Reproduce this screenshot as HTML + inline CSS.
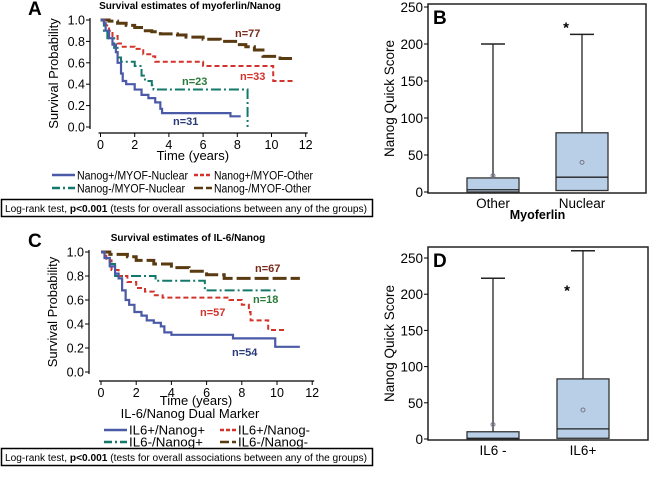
<!DOCTYPE html>
<html><head><meta charset="utf-8"><style>
body{margin:0;background:#fff;}
svg{display:block;font-family:"Liberation Sans",Arial,sans-serif;}
</style></head><body>
<svg id="fig" width="650" height="485" viewBox="0 0 650 485">
<g id="pA"></g>
<g id="pB"></g>
<g id="pC"></g>
<g id="pD"></g>
<g>
<rect x="1.5" y="199.5" width="371" height="17" fill="#fff" stroke="#000" stroke-width="1.5"/>
<text x="5" y="212" font-size="10" textLength="362" lengthAdjust="spacingAndGlyphs">Log-rank test, <tspan font-weight="bold">p&lt;0.001</tspan> (tests for overall associations between any of the groups)</text>
</g>
<g>
<rect x="1.5" y="448.5" width="371" height="17" fill="#fff" stroke="#000" stroke-width="1.5"/>
<text x="5" y="461" font-size="10" textLength="362" lengthAdjust="spacingAndGlyphs">Log-rank test, <tspan font-weight="bold">p&lt;0.001</tspan> (tests for overall associations between any of the groups)</text>
</g>
</svg>
<script>
// Panel A data
const aBlueT=[0,0.2,0.3,0.5,0.7,0.9,1.0,1.2,1.3,1.5,2.0,2.4,2.8,3.2,3.5,3.6,7.6,8.2];
const aBlueS=[1,0.97,0.9,0.83,0.77,0.7,0.6,0.5,0.43,0.4,0.35,0.3,0.27,0.23,0.17,0.13,0.1,0.1];
const aGreenT=[0,0.2,0.4,0.8,1.0,1.2,2.0,2.4,2.6,3.0,3.1,8.6,8.6];
const aGreenS=[1,0.9,0.83,0.74,0.65,0.61,0.57,0.48,0.43,0.39,0.35,0.35,0];
const aRedT=[0,0.3,0.5,0.7,1.0,1.3,2.0,2.5,3.0,3.2,6.0,10.1,11.4];
const aRedS=[1,0.95,0.9,0.85,0.78,0.75,0.73,0.68,0.66,0.61,0.57,0.43,0.43];
const aBrownT=[0,0.5,1.0,1.5,2.0,2.5,3.0,3.5,4.5,5.0,6.0,7.0,8.0,8.5,9.0,9.5,10.5,11.4];
const aBrownS=[1,0.99,0.97,0.95,0.93,0.9,0.89,0.87,0.86,0.84,0.82,0.8,0.77,0.75,0.72,0.66,0.64,0.64];
// Panel C data
const cBlueT=[0,0.2,0.5,0.8,1.0,1.2,1.4,1.6,1.9,2.3,2.6,3.0,3.4,3.6,4.0,7.5,9.9,11.3];
const cBlueS=[1,0.95,0.88,0.82,0.78,0.68,0.6,0.56,0.5,0.47,0.43,0.41,0.38,0.33,0.31,0.28,0.21,0.21];
const cGreenT=[0,0.2,0.5,0.8,3.1,5.9,10];
const cGreenS=[1,0.95,0.9,0.8,0.76,0.68,0.68];
const cRedT=[0,0.3,0.6,1.0,1.5,2.0,2.5,3.0,3.5,7.3,8.0,8.4,8.5,9.5,10.5];
const cRedS=[1,0.93,0.85,0.8,0.75,0.7,0.67,0.64,0.62,0.6,0.56,0.5,0.43,0.35,0.35];
const cBrownT=[0,0.5,1.5,2.0,3.0,4.0,5.0,6.0,7.0,11.3];
const cBrownS=[1,0.98,0.96,0.93,0.9,0.87,0.84,0.81,0.78,0.78];
const xTicks=[0,2,4,6,8,10,12];
const yTicks=[0,0.2,0.4,0.6,0.8,1.0];
// Box plot data [q1, median, q3, whiskerHigh, mean, outlier]
const bCats=["Other","Nuclear"];
const bStats=[[0,3,19,200,22,null],[2,20,80,213,40,225]];
const dCats=["IL6 -","IL6+"];
const dStats=[[0,1,10,222,20,null],[1,14,83,260,40,208]];
const boxTicks=[0,50,100,150,200,250];

const NS="http://www.w3.org/2000/svg";
function el(p,tag,attrs,txt){const e=document.createElementNS(NS,tag);for(const k in attrs)e.setAttribute(k,attrs[k]);if(txt!==undefined)e.textContent=txt;p.appendChild(e);return e;}

function km(g,cfg){
  const X=t=>cfg.x0+t*cfg.xs, Y=p=>cfg.y0-p*cfg.ys;
  const t1=el(g,'text',{x:cfg.titleX,y:cfg.titleY,'font-size':10,'font-weight':'bold','text-anchor':'middle'},cfg.title);
  
  
  const lt=el(g,'text',{x:28,y:cfg.titleY+6,'font-size':19,'font-weight':'bold'},cfg.letter);
  
  
  el(g,'line',{x1:cfg.axL,y1:Y(1)-2,x2:cfg.axL,y2:Y(0)+2,stroke:'#000','stroke-width':1.2});
  el(g,'line',{x1:X(0)-2,y1:cfg.axB,x2:X(12)+2,y2:cfg.axB,stroke:'#000','stroke-width':1.2});
  yTicks.forEach(v=>{
    el(g,'line',{x1:cfg.axL-4,y1:Y(v),x2:cfg.axL,y2:Y(v),stroke:'#000'});
    const t=el(g,'text',{x:cfg.axL-5,y:Y(v)+4.5,'font-size':12.5,'text-anchor':'end'},v.toFixed(1));
    
    
  });
  xTicks.forEach(v=>{
    el(g,'line',{x1:X(v),y1:cfg.axB,x2:X(v),y2:cfg.axB+4,stroke:'#000'});
    const t=el(g,'text',{x:X(v),y:cfg.axB+16,'font-size':12.5,'text-anchor':'middle'},String(v));
    
    
  });
  const yl=el(g,'text',{transform:`translate(${cfg.axL-32},${(Y(0)+Y(1))/2}) rotate(-90)`,'font-size':13,'text-anchor':'middle'},'Survival Probability');
  
  
  const xl=el(g,'text',{x:X(5.4),y:cfg.axB+cfg.xlOff,'font-size':13,'text-anchor':'middle'},'Time (years)');
  
  
  cfg.series.forEach(s=>{
    let d=`M${X(s.t[0])},${Y(s.s[0])}`;
    for(let i=1;i<s.t.length;i++){d+=`H${X(s.t[i])}V${Y(s.s[i])}`;}
    const p=el(g,'path',{d:d,fill:'none',stroke:s.c,'stroke-width':s.w,'stroke-dasharray':s.dash});
    
    
    const l=el(g,'text',{x:s.lx,y:s.ly,'font-size':11,'font-weight':'bold',fill:s.lc},s.label);
    
    
  });
  cfg.legend.forEach(L=>{
    el(g,'line',{x1:L.x,y1:L.y,x2:L.x+L.len,y2:L.y,stroke:L.c,'stroke-width':2.5,'stroke-dasharray':L.dash});
    const t=el(g,'text',{x:L.x+L.len+2,y:L.y+4.5,'font-size':cfg.legFs,textLength:L.tl,lengthAdjust:'spacingAndGlyphs'},L.text);
    
    
  });
}
const BLUE='#4a5aa8',GREEN='#13796a',RED='#d2332b',BROWN='#5a3a10';
km(document.getElementById('pA'),{x0:100.5,xs:17.1,y0:127,ys:107,axL:90,axB:133,xlOff:27,legFs:11.5,title:'Survival estimates of myoferlin/Nanog',titleX:190,titleY:9,letter:'A',
 series:[
  {t:aBrownT,s:aBrownS,c:BROWN,w:3,dash:'14 4',name:'curve-nanog-neg-myof-other',label:'n=77',lx:235,ly:37,lc:'#7a2a1a'},
  {t:aRedT,s:aRedS,c:RED,w:2,dash:'5 3',name:'curve-nanog-pos-myof-other',label:'n=33',lx:240,ly:80,lc:RED},
  {t:aGreenT,s:aGreenS,c:GREEN,w:2,dash:'10 3 2 3',name:'curve-nanog-neg-myof-nuclear',label:'n=23',lx:182,ly:85,lc:'#2a7a3a'},
  {t:aBlueT,s:aBlueS,c:BLUE,w:2.2,dash:'none',name:'curve-nanog-pos-myof-nuclear',label:'n=31',lx:173,ly:125,lc:'#2a3a78'}],
 legend:[{x:52,y:175,len:23,c:BLUE,dash:'none',text:'Nanog+/MYOF-Nuclear',tl:111},{x:194,y:175,len:18,c:RED,dash:'4 2',text:'Nanog+/MYOF-Other',tl:99},
  {x:52,y:188,len:23,c:GREEN,dash:'8 3 2 3',text:'Nanog-/MYOF-Nuclear',tl:108},{x:194,y:188,len:18,c:BROWN,dash:'9 3',text:'Nanog-/MYOF-Other',tl:97}]});
km(document.getElementById('pC'),{x0:101,xs:17.6,y0:372,ys:120,axL:89,axB:381,xlOff:24,legFs:12.5,title:'Survival estimates of IL-6/Nanog',titleX:188,titleY:241,letter:'C',
 series:[
  {t:cBrownT,s:cBrownS,c:BROWN,w:3,dash:'14 4',name:'curve-il6-neg-nanog-neg',label:'n=67',lx:255,ly:272,lc:'#7a2a1a'},
  {t:cGreenT,s:cGreenS,c:GREEN,w:2,dash:'10 3 2 3',name:'curve-il6-neg-nanog-pos',label:'n=18',lx:253,ly:303,lc:'#2a7a3a'},
  {t:cRedT,s:cRedS,c:RED,w:2,dash:'5 3',name:'curve-il6-pos-nanog-neg',label:'n=57',lx:200,ly:316,lc:RED},
  {t:cBlueT,s:cBlueS,c:BLUE,w:2.2,dash:'none',name:'curve-il6-pos-nanog-pos',label:'n=54',lx:232,ly:356,lc:'#2a3a78'}],
 legend:[{x:104,y:430,len:23,c:BLUE,dash:'none',text:'IL6+/Nanog+',tl:76},{x:220,y:430,len:16,c:RED,dash:'4 2',text:'IL6+/Nanog-',tl:72},
  {x:104,y:442,len:23,c:GREEN,dash:'8 3 2 3',text:'IL6-/Nanog+',tl:74},{x:220,y:442,len:16,c:BROWN,dash:'9 3',text:'IL6-/Nanog-',tl:70}]});
(function(){const g=document.getElementById('pC');const t=el(g,'text',{x:190,y:418,'font-size':13,'text-anchor':'middle'},'IL-6/Nanog Dual Marker');

})();

function box(g,cfg,cats,stats){
  const Y=v=>cfg.y0-v*cfg.ys;
  el(g,'rect',{x:cfg.L,y:cfg.T,width:cfg.R-cfg.L,height:cfg.B-cfg.T,fill:'none',stroke:'#222','stroke-width':1.5});
  const lt=el(g,'text',{x:cfg.L+5,y:cfg.T+20,'font-size':19,'font-weight':'bold'},cfg.letter);
  
  
  boxTicks.forEach(v=>{
    el(g,'line',{x1:cfg.L-4,y1:Y(v),x2:cfg.L,y2:Y(v),stroke:'#000'});
    const t=el(g,'text',{x:cfg.L-5,y:Y(v)+5,'font-size':13.5,'text-anchor':'end'},String(v));
    
    
  });
  const yl=el(g,'text',{transform:`translate(${cfg.L-34},${(cfg.T+cfg.B)/2}) rotate(-90)`,'font-size':13.5,'text-anchor':'middle'},'Nanog Quick Score');
  
  
  cats.forEach((c,i)=>{
    const cx=cfg.cx[i],s=stats[i],hw=26;
    el(g,'line',{x1:cx,y1:Y(s[2]),x2:cx,y2:Y(s[3]),stroke:'#222','stroke-width':1.3});
    el(g,'line',{x1:cx-12,y1:Y(s[3]),x2:cx+12,y2:Y(s[3]),stroke:'#222','stroke-width':1.5});
    const r=el(g,'rect',{x:cx-hw,y:Y(s[2]),width:2*hw,height:Y(s[0])-Y(s[2]),fill:'#b9cfe7',stroke:'#333','stroke-width':1.3});
    
    
    el(g,'line',{x1:cx-hw,y1:Y(s[1]),x2:cx+hw,y2:Y(s[1]),stroke:'#222','stroke-width':1.3});
    el(g,'circle',{cx:cx,cy:Y(s[4]),r:2,fill:'none',stroke:'#778','stroke-width':1});
    if(s[5]!==null){const o=el(g,'text',{x:cx-16,y:Y(s[5])+7,'font-size':15,'font-weight':'bold','text-anchor':'middle'},'*');
      
      }
    const t=el(g,'text',{x:cx,y:cfg.B+15,'font-size':13.5,'text-anchor':'middle'},c);
    
    
  });
  if(cfg.xtitle){const t=el(g,'text',{x:(cfg.cx[0]+cfg.cx[1])/2,y:cfg.B+26,'font-size':12.5,'font-weight':'bold','text-anchor':'middle'},cfg.xtitle);
    
    }
}
box(document.getElementById('pB'),{L:428,R:646,T:4,B:193,y0:192,ys:0.74,cx:[493,582],letter:'B',xtitle:'Myoferlin'},bCats,bStats);
box(document.getElementById('pD'),{L:428,R:648,T:247,B:440,y0:439,ys:0.724,cx:[493,583],letter:'D',xtitle:null},dCats,dStats);
</script>
</body></html>
